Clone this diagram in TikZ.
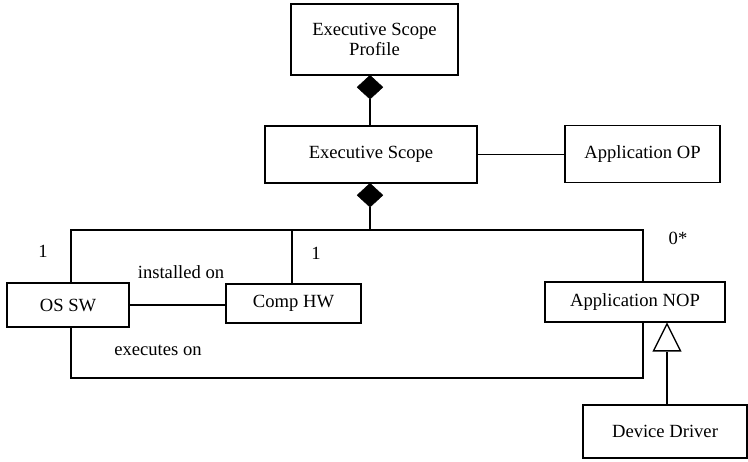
\documentclass[tikz,border=0pt]{standalone}
\usepackage{fontspec}
\setmainfont{Liberation Serif}
\usetikzlibrary{shapes.geometric}
\begin{document}
\begin{tikzpicture}[x=1pt,y=-1pt,
  font=\fontsize{18.6}{21}\selectfont,
  cls/.style={draw,line width=1.8pt,rectangle,inner sep=0pt,align=center},
  link/.style={line width=1.8pt},
  compo/.style={draw,fill=black,diamond,inner sep=0pt,minimum width=26pt,minimum height=24pt},
  gen/.style={draw,fill=white,line width=1.4pt,isosceles triangle,shape border rotate=90,
              isosceles triangle stretches,inner sep=0pt,minimum width=27pt,minimum height=27pt},
  lbl/.style={inner sep=0pt}]
\useasboundingbox (0,0) rectangle (748,462);

% classes
\node[cls,minimum width=167pt,minimum height=71pt] (esp) at (374.5,39.5) {Executive Scope\\[-1pt]Profile};
\node[cls,minimum width=212pt,minimum height=57pt] (es) at (371,154.5) {Executive Scope};
\node[cls,minimum width=155pt,minimum height=57pt] (aop) at (642.5,154) {Application OP};
\node[cls,minimum width=122pt,minimum height=44pt] (os) at (68,305) {OS SW};
\node[cls,minimum width=135pt,minimum height=39pt] (hw) at (293.5,303.5) {Comp HW};
\node[cls,minimum width=180pt,minimum height=40pt] (nop) at (635,302) {Application NOP};
\node[cls,minimum width=164pt,minimum height=53pt] (dd) at (665,431.5) {Device Driver};

% composition diamonds
\node[compo,anchor=north] (d1) at (370,75) {};
\node[compo,anchor=north] (d2) at (370,183) {};

% generalisation triangle
\node[gen,anchor=apex] (tri) at (667,322) {};

% junction points of the bus
\coordinate (bus) at (370,230);
\coordinate (busL) at (71,230);
\coordinate (busM) at (292,230);
\coordinate (busR) at (643,230);
\coordinate (exL) at (71,378);
\coordinate (exR) at (643,378);

% connectors
\draw[link] (d1.south) -- (d1.south |- es.north);
\draw[link] (es.east) -- (es.east -| aop.west);
\draw[link] (d2.south) -- (bus);
\draw[link] (busL |- os.north) -- (busL) -- (busR) -- (busR |- nop.north);
\draw[link] (busM) -- (busM |- hw.north);
\draw[link] (os.east) -- (os.east -| hw.west);
\draw[link] (exL |- os.south) -- (exL) -- (exR) -- (exR |- nop.south);
\draw[link] (tri.south |- dd.north) -- (tri.south);

% multiplicities and role names
\node[lbl] (m1) at (43,251) {1};
\node[lbl] (m2) at (316,253) {1};
\node[lbl] (m3) at (678,238) {0*};
\node[lbl] (r1) at (181,272) {installed on};
\node[lbl] (r2) at (158,350) {executes on};
\end{tikzpicture}
\end{document}
